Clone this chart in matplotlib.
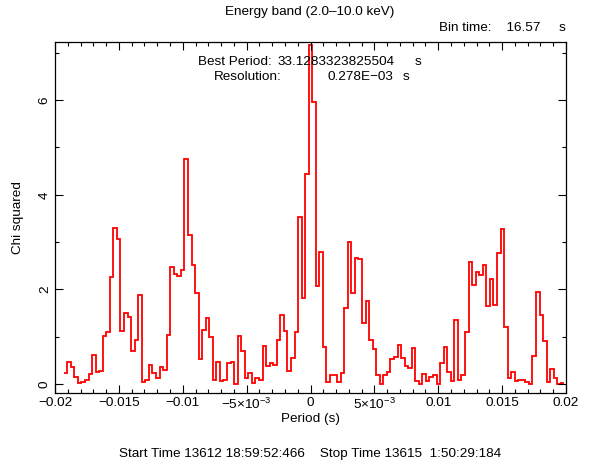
import numpy as np
import matplotlib
matplotlib.use('Agg')
import matplotlib.pyplot as plt
from matplotlib.ticker import MultipleLocator, FixedLocator, FixedFormatter

# ---- data ----
resolution = 0.278e-3          # s, bin width of the period search
first_bin = -69                # index of the first trial period (relative to best)
chi2 = [
    0.23, 0.46, 0.35, 0.15, 0.02, 0.04, 0.08, 0.21, 0.62, 0.26,
    0.27, 1.02, 1.10, 2.27, 3.30, 3.06, 1.13, 1.51, 1.41, 0.69,
    0.94, 1.89, 0.05, 0.08, 0.40, 0.23, 0.12, 0.35, 0.30, 1.03,
    2.48, 2.33, 2.29, 2.40, 4.75, 3.16, 2.52, 1.93, 0.52, 1.14,
    1.40, 0.99, 0.08, 0.47, 0.07, 0.08, 0.44, 0.47, 0.00, 1.02,
    0.70, 0.12, 0.23, 0.03, 0.12, 0.08, 0.80, 0.38, 0.45, 0.40,
    0.92, 1.45, 1.13, 0.28, 0.54, 1.09, 3.54, 1.82, 4.43, 7.16,
    5.96, 2.08, 2.80, 0.79, 0.04, 0.20, 0.18, 0.04, 0.23, 1.60,
    3.00, 1.93, 2.66, 2.65, 1.28, 1.75, 0.93, 0.75, 0.18, 0.01,
    0.18, 0.25, 0.52, 0.58, 0.83, 0.54, 0.38, 0.33, 0.76, 0.07,
    0.00, 0.21, 0.06, 0.14, 0.19, 0.00, 0.44, 0.79, 0.26, 0.06,
    1.35, 0.08, 0.18, 1.10, 2.58, 2.09, 2.37, 2.30, 2.51, 1.65,
    2.23, 1.67, 2.77, 3.27, 1.20, 0.13, 0.26, 0.06, 0.08, 0.08,
    0.04, 0.01, 0.60, 1.94, 1.46, 0.91, 0.05, 0.31, 0.12, 0.01,
    0.02,
]
xtick_values = [-0.02, -0.015, -0.01, -0.005, 0.0, 0.005, 0.01, 0.015, 0.02]
xtick_labels = ['\u22120.02', '\u22120.015', '\u22120.01', r'$-5{\times}10^{-3}$', '0',
                r'$5{\times}10^{-3}$', '0.01', '0.015', '0.02']
ytick_values = [0, 2, 4, 6]
ytick_labels = ['0', '2', '4', '6']

title = 'Energy band (2.0\u201310.0 keV)'
bin_time = 'Bin time:    16.57     s'
best_period_label = 'Best Period:'
best_period_value = '33.1283323825504'
resolution_label = 'Resolution:'
resolution_value = '0.278E\u221203'
times = 'Start Time 13612 18:59:52:466    Stop Time 13615  1:50:29:184'

# ---- style ----
plt.rcParams['font.family'] = ['Liberation Sans', 'DejaVu Sans']
plt.rcParams['mathtext.fontset'] = 'custom'
plt.rcParams['mathtext.rm'] = 'Liberation Sans'
plt.rcParams['mathtext.it'] = 'Liberation Sans'
FS = 9.7
plt.rcParams['font.size'] = FS

W, H = 589, 465
fig = plt.figure(figsize=(W / 100, H / 100), dpi=100)
ax = fig.add_axes([55 / W, 1 - 393 / H, (566 - 55) / W, (393 - 42) / H])

n = len(chi2)
centers = (np.arange(n) + first_bin) * resolution
edges = np.concatenate([centers - resolution / 2, [centers[-1] + resolution / 2]])
ax.stairs(chi2, edges, baseline=None, color='#ff0000', lw=1.3)

ax.set_xlim(-0.02, 0.02)
ax.set_ylim(-0.19, 7.23)

ax.xaxis.set_major_locator(FixedLocator(xtick_values))
ax.xaxis.set_major_formatter(FixedFormatter(xtick_labels))
ax.xaxis.set_minor_locator(MultipleLocator(0.001))
ax.yaxis.set_major_locator(FixedLocator(ytick_values))
ax.yaxis.set_major_formatter(FixedFormatter(ytick_labels))
ax.yaxis.set_minor_locator(MultipleLocator(1))

ax.tick_params(which='both', direction='in', top=True, right=True, width=0.8, colors='black')
ax.tick_params(which='major', length=5.5, labelsize=FS, pad=3)
ax.tick_params(which='minor', length=2.8)
for lab in ax.get_yticklabels():
    lab.set_rotation(90)
    lab.set_va('center')
for s in ax.spines.values():
    s.set_linewidth(0.9)

ax.set_xlabel('Period (s)', fontsize=FS)
ax.set_ylabel('Chi squared', fontsize=FS)
ax.xaxis.set_label_coords(0.5, -(419 - 393) / (393 - 42))
ax.xaxis.label.set_va('center')
ax.yaxis.set_label_coords(-(55 - 18) / (566 - 55), 0.5)
ax.yaxis.label.set_va('center')
ax.yaxis.label.set_ha('center')

fig.text(310 / W, 1 - 12 / H, title, ha='center', va='center', fontsize=FS)
fig.text(566 / W, 1 - 28 / H, bin_time, ha='right', va='center', fontsize=FS)
fig.text(198 / W, 1 - 62 / H, best_period_label, ha='left', va='center', fontsize=FS)
fig.text(278 / W, 1 - 62 / H, best_period_value, ha='left', va='center', fontsize=FS)
fig.text(415 / W, 1 - 62 / H, 's', ha='left', va='center', fontsize=FS)
fig.text(214 / W, 1 - 77 / H, resolution_label, ha='left', va='center', fontsize=FS)
fig.text(328 / W, 1 - 77 / H, resolution_value, ha='left', va='center', fontsize=FS)
fig.text(403 / W, 1 - 77 / H, 's', ha='left', va='center', fontsize=FS)
fig.text(310 / W, 1 - 454 / H, times, ha='center', va='center', fontsize=FS)

fig.savefig('out.png', dpi=100, facecolor='white')
